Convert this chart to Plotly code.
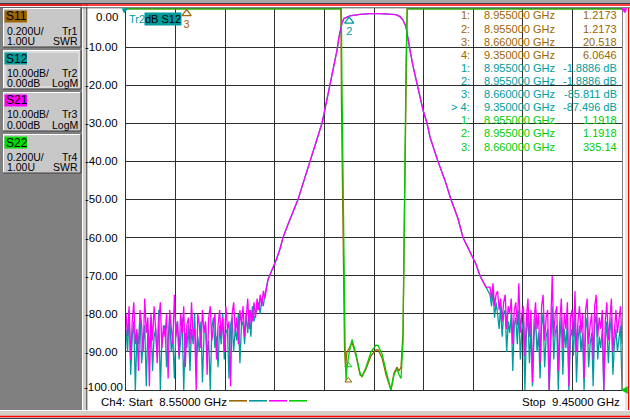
import numpy as np
import plotly.graph_objects as go

# ---------------- data ----------------
F_START = 8.55
F_STOP = 9.45

# filter response shared by S21 / S12: skirts + passband (GHz, dB)
xfer_freq = [8.8077, 8.8149, 8.8222, 8.8294, 8.8349, 8.8440, 8.8530, 8.8621, 8.8730, 8.8839,
             8.8948, 8.9056, 8.9129, 8.9202, 8.9238, 8.9274, 8.9329, 8.9365, 8.9401, 8.9419,
             8.9456, 8.9510, 8.9564, 8.9746, 8.9927, 9.0109, 9.0290, 9.0399, 9.0472, 9.0526,
             9.0581, 9.0608, 9.0653, 9.0708, 9.0762, 9.0816, 9.0889, 9.0962, 9.1016, 9.1161,
             9.1288, 9.1397, 9.1524, 9.1615, 9.1742, 9.1851, 9.1923, 9.2032]
xfer_db = [-71, -68.5, -66, -63, -60, -56.5, -53, -50, -45, -40,
           -35, -30, -25, -20, -17.5, -15, -10.8, -7.3, -5, -3.7,
           -2.5, -2.1, -1.8, -1.4, -1.2, -1.2, -1.3, -1.5, -2.0, -2.9,
           -4.7, -7.3, -10.8, -15, -18.6, -22, -26.5, -30, -33.6, -40,
           -45, -50, -55, -60, -64, -67, -70, -73]

# noise floor, lower band edge (8.550 .. 8.802 GHz)
NOISE_LEFT = (8.550, 8.802)
s21_noise_left = [-80, -86, -78, -92, -82, -77, -88, -84, -95, -79, -83, -90, -76, -85, -81,
                  -99, -80, -87, -78, -84, -93, -82, -77, -89, -83, -86, -80, -97, -79, -84,
                  -88, -75, -86, -82, -91, -80, -85, -78, -94, -83, -81, -88, -77, -86, -84,
                  -100, -80, -83, -89, -79, -85, -82, -96, -81, -78, -87, -84, -80, -92, -83,
                  -79, -86, -81, -90, -78, -84, -82, -99, -80, -77, -85, -81, -88, -79, -83,
                  -78, -86, -80, -76, -84, -79, -82, -77, -81, -76, -79, -75, -78, -74, -76]
s12_noise_left = [-84, -90, -79, -96, -86, -82, -100, -85, -88, -80, -93, -87, -83, -99, -84,
                  -89, -81, -95, -86, -84, -91, -79, -100, -87, -85, -83, -94, -88, -80, -90,
                  -86, -97, -84, -82, -92, -87, -81, -100, -85, -89, -83, -95, -84, -88, -80,
                  -93, -86, -90, -82, -98, -85, -83, -91, -87, -100, -84, -81, -89, -86, -94,
                  -83, -88, -80, -92, -85, -84, -97, -83, -81, -90, -84, -87, -80, -93, -83,
                  -82, -88, -80, -85, -79, -86, -78, -82, -80, -79, -77, -80, -76, -78, -75]

# noise floor, upper band edge (9.2105 .. 9.450 GHz)
NOISE_RIGHT = (9.2105, 9.450)
s21_noise_right = [-73, -76, -72, -78, -75, -74, -79, -76, -82, -77, -75, -84, -78, -80, -76,
                   -88, -79, -77, -83, -72, -85, -80, -78, -91, -81, -76, -86, -79, -98, -82,
                   -77, -84, -80, -93, -78, -75, -87, -81, -79, -100, -83, -70, -86, -80, -78,
                   -95, -82, -76, -89, -80, -84, -77, -99, -81, -79, -86, -74, -90, -82, -78,
                   -85, -80, -97, -79, -76, -88, -83, -80, -92, -78, -75, -86, -81, -84, -79,
                   -100, -82, -77, -87, -80, -76, -90, -83, -79, -85, -81, -78, -88]
s12_noise_right = [-75, -78, -74, -81, -77, -80, -84, -78, -86, -80, -79, -90, -82, -85, -80,
                   -95, -83, -81, -88, -79, -92, -84, -82, -100, -85, -80, -93, -84, -99, -86,
                   -81, -90, -85, -97, -83, -80, -94, -86, -84, -100, -88, -78, -92, -85, -83,
                   -100, -87, -81, -96, -84, -89, -82, -100, -86, -84, -91, -80, -98, -87, -83,
                   -90, -85, -100, -84, -81, -94, -88, -85, -99, -83, -80, -92, -86, -89, -84,
                   -100, -87, -82, -93, -85, -81, -96, -88, -84, -90, -86, -83, -100]

# S11 / S22 as SWR (ref 1.00 U at bottom, 0.200 U/div)
s11_freq = [8.550, 8.660, 8.800, 8.920, 8.935, 8.9398, 8.9410, 8.9428, 8.9446, 8.9465,
            8.9483, 8.9510, 8.9546, 8.9601, 8.9673, 8.9746, 8.9782, 8.9855, 8.9946, 9.0036,
            9.0073, 9.0145, 9.0218, 9.0290, 9.0308, 9.0363, 9.0417, 9.0454, 9.0490, 9.0526,
            9.0544, 9.0562, 9.0581, 9.0600, 9.0617, 9.100, 9.350, 9.450]
s11_swr = [25, 20.518, 30, 10, 4.5, 3.0, 2.5, 2.0, 1.5, 1.22,
           1.12, 1.2, 1.217, 1.25, 1.18, 1.08, 1.07, 1.11, 1.18, 1.21,
           1.21, 1.17, 1.08, 1.01, 1.0, 1.09, 1.12, 1.10, 1.12, 1.3,
           1.8, 2.3, 2.75, 3.0, 4.0, 12, 6.0646, 8]
s22_freq = [8.550, 8.660, 8.800, 8.920, 8.935, 8.9407, 8.9419, 8.9437, 8.9456, 8.9474,
            8.9492, 8.9510, 8.9546, 8.9601, 8.9673, 8.9746, 8.9782, 8.9855, 8.9946, 9.0036,
            9.0073, 9.0145, 9.0218, 9.0290, 9.0308, 9.0363, 9.0417, 9.0454, 9.0490, 9.0526,
            9.0544, 9.0562, 9.0581, 9.0604, 9.0617, 9.100, 9.350, 9.450]
s22_swr = [60, 335.14, 80, 12, 5, 3.0, 2.6, 2.1, 1.6, 1.25,
           1.05, 1.12, 1.19, 1.265, 1.19, 1.09, 1.07, 1.12, 1.20, 1.235,
           1.234, 1.19, 1.10, 1.02, 1.0, 1.08, 1.11, 1.08, 1.06, 1.25,
           1.75, 2.25, 2.7, 3.0, 3.8, 15, 40, 30]

# trace setup panel
trace_names = ["S11", "S12", "S21", "S22"]
trace_scale = ["0.200U/", "10.00dB/", "10.00dB/", "0.200U/"]
trace_ref = ["1.00U", "0.00dB", "0.00dB", "1.00U"]
trace_id = ["Tr1", "Tr2", "Tr3", "Tr4"]
trace_fmt = ["SWR", "LogM", "LogM", "SWR"]

# marker readout
readout_idx = ["1:", "2:", "3:", "4:", "1:", "2:", "3:", "> 4:", "1:", "2:", "3:"]
readout_freq = ["8.955000 GHz", "8.955000 GHz", "8.660000 GHz", "9.350000 GHz",
                "8.955000 GHz", "8.955000 GHz", "8.660000 GHz", "9.350000 GHz",
                "8.955000 GHz", "8.955000 GHz", "8.660000 GHz"]
readout_val = ["1.2173", "1.2173", "20.518", "6.0646",
               "-1.8886 dB", "-1.8886 dB", "-85.811 dB", "-87.496 dB",
               "1.1918", "1.1918", "335.14"]
readout_trace = [0, 0, 0, 0, 1, 1, 1, 1, 3, 3, 3]

y_ticks = [0, -10, -20, -30, -40, -50, -60, -70, -80, -90, -100]

# ---------------- styling ----------------
BROWN = "#9c6600"
TEAL = "#009c9c"
MAGENTA = "#ff00ff"
GREEN = "#00cc00"
COLORS = [BROWN, TEAL, MAGENTA, GREEN]
LABEL_BG = [BROWN, TEAL, MAGENTA, "#00dd00"]
FONT = "Liberation Sans, Arial, sans-serif"
GRID = "#2e2e2e"

W, H = 630, 419
L, R, T, B = 126, 622, 8, 390
Y_TOP = 0.25


def px(x):
    return (x - L) / (R - L)


def py(y):
    return (B - y) / (B - T)


def swr_to_disp(swr):
    return np.minimum(-100 + (np.asarray(swr, dtype=float) - 1.0) / 0.2 * 10.0, 0.0)


def assemble(left, right):
    f = np.concatenate([np.linspace(*NOISE_LEFT, len(left)), xfer_freq,
                        np.linspace(*NOISE_RIGHT, len(right))])
    y = np.concatenate([left, xfer_db, right])
    return f, y


fig = go.Figure()

fig.add_trace(go.Scatter(x=np.asarray(s11_freq), y=swr_to_disp(s11_swr), mode="lines",
                         line=dict(color=BROWN, width=1.3), hoverinfo="skip"))
f12, y12 = assemble(s12_noise_left, s12_noise_right)
fig.add_trace(go.Scatter(x=f12, y=y12, mode="lines",
                         line=dict(color=TEAL, width=1.3), hoverinfo="skip"))
f21, y21 = assemble(s21_noise_left, s21_noise_right)
fig.add_trace(go.Scatter(x=f21, y=y21, mode="lines",
                         line=dict(color=MAGENTA, width=1.3), hoverinfo="skip"))
fig.add_trace(go.Scatter(x=np.asarray(s22_freq), y=swr_to_disp(s22_swr), mode="lines",
                         line=dict(color=GREEN, width=1.3), hoverinfo="skip"))

# markers drawn on the traces
fig.add_trace(go.Scatter(x=[8.955], y=[-3.2], mode="markers+text", text=["2"],
                         textposition="bottom center",
                         textfont=dict(color=TEAL, size=11, family=FONT),
                         marker=dict(symbol="triangle-up-open", size=8, color=TEAL,
                                     line=dict(width=1.3)),
                         cliponaxis=False, hoverinfo="skip"))
fig.add_trace(go.Scatter(x=[8.66], y=[-1.2], mode="markers+text", text=["3"],
                         textposition="bottom center",
                         textfont=dict(color=BROWN, size=11, family=FONT),
                         marker=dict(symbol="triangle-up-open", size=8, color=BROWN,
                                     line=dict(width=1.3)),
                         cliponaxis=False, hoverinfo="skip"))
fig.add_trace(go.Scatter(x=[8.9535, 8.9535], y=[-93.5, -97.5], mode="markers",
                         marker=dict(symbol="triangle-up-open", size=6, color=[GREEN, BROWN],
                                     line=dict(width=1)),
                         cliponaxis=False, hoverinfo="skip"))

shapes = []
ann = []


def rect(x0, y0, x1, y1, fill, line=None, lw=0):
    shapes.append(dict(type="rect", xref="paper", yref="paper", x0=px(x0), x1=px(x1),
                       y0=py(y1), y1=py(y0), fillcolor=fill,
                       line=dict(color=line or fill, width=lw), layer="above"))


def hline(x0, x1, y, color, w=1):
    shapes.append(dict(type="line", xref="paper", yref="paper", x0=px(x0), x1=px(x1),
                       y0=py(y), y1=py(y), line=dict(color=color, width=w), layer="above"))


def vline(x, y0, y1, color, w=1):
    shapes.append(dict(type="line", xref="paper", yref="paper", x0=px(x), x1=px(x),
                       y0=py(y0), y1=py(y1), line=dict(color=color, width=w), layer="above"))


def tri(pts, color):
    d = "M " + " L ".join(f"{px(a)},{py(b)}" for a, b in pts) + " Z"
    shapes.append(dict(type="path", xref="paper", yref="paper", path=d, fillcolor=color,
                       line=dict(color=color, width=0.5), layer="above"))


def text(x, y, s, color="black", size=11, xanchor="left", bg=None):
    ann.append(dict(xref="paper", yref="paper", x=px(x), y=py(y), text=s, showarrow=False,
                    xanchor=xanchor, yanchor="middle", borderpad=0,
                    bgcolor=bg if bg else "rgba(0,0,0,0)",
                    font=dict(family=FONT, size=size, color=color)))


# left panel
rect(0, 0, 82, 412, "#808080")
rect(82, 0, 87, 412, "#d4d0c8")
vline(86.8, 0, 411, "#404040", 1)
vline(82.5, 0, 411, "#ffffff", 1)
# right border
rect(622.6, 0, 630, 412, "#ffffff")
vline(626, 8, 411, "#c8c8c8", 1)
vline(628.5, 8, 411, "#ff0000", 1.2)
# top strip
rect(0, 0, 630, 3, "#a8a8a8")
hline(0, 630, 3.5, "#404040", 1)
hline(0, 630, 5, "#ff0000", 1.5)
hline(0, 630, 6.6, "#ffffff", 1)
hline(0, 630, 7.8, "#505050", 1)
# bottom strip
rect(0, 410, 630, 419, "#d4d0c8")
hline(0, 630, 410.5, "#ffffff", 1)
hline(0, 630, 416.5, "#ff0000", 1.5)
hline(0, 630, 418.5, "#404040", 1)

# trace setup boxes
for i in range(4):
    top = 8 + 42 * i
    rect(3, top, 81, top + 39, "#c8c8c8")
    hline(3, 81, top + 0.5, "#ffffff", 1)
    vline(3.5, top, top + 39, "#ffffff", 1)
    hline(3, 81, top + 39, "#404040", 1.2)
    vline(81, top, top + 39, "#404040", 1.2)
    if i == 1:
        shapes.append(dict(type="rect", xref="paper", yref="paper", x0=px(5), x1=px(79),
                           y0=py(top + 37), y1=py(top + 2), line=dict(color="#f0f0f0", width=1),
                           layer="above"))
    rect(4.5, top + 2.5, 27, top + 14.5, LABEL_BG[i])
    text(4.5, top + 8.5, trace_names[i], size=12)
    text(6, top + 22.5, trace_scale[i], size=10.5)
    text(79, top + 22.5, trace_id[i], xanchor="right", size=10.5)
    text(6, top + 33, trace_ref[i], size=10.5)
    text(79, top + 33, trace_fmt[i], xanchor="right", size=10.5)

# y tick labels
for v in y_ticks:
    ypos = B - (v + 100) / (100 + Y_TOP) * (B - T)
    if v == 0:
        ypos = 17
    if v == -100:
        ypos = 386.5
    text(124 if v == -100 else 119, ypos, f"{v:.2f}", size=11.5, xanchor="right")

# reference arrows
tri([(122, 8.5), (128, 8.5), (124, 13)], TEAL)
tri([(627, 8.5), (621, 8.5), (625, 13)], MAGENTA)
tri([(621.5, 390), (627.5, 386.5), (627.5, 393.5)], GREEN)

# active trace title
text(127.5, 18.5, "Tr2", color=TEAL, size=11)
text(144, 18.5, "dB S12", color="black", size=11, bg=TEAL)

# marker readout
for i in range(len(readout_idx)):
    c = COLORS[readout_trace[i]]
    yy = 15.5 + 13.1 * i
    text(471, yy, readout_idx[i], color=c, xanchor="right")
    text(556, yy, readout_freq[i], color=c, xanchor="right")
    text(618, yy, readout_val[i], color=c, xanchor="right")

# footer
text(100, 402, "Ch4: Start\u00a0\u00a08.55000 GHz", size=11.5)
text(621, 402, "Stop\u00a0\u00a09.45000 GHz", size=11.5, xanchor="right")
for k, c in enumerate(COLORS):
    hline(229 + 20 * k, 247 + 20 * k, 400.8, c, 1.6)

fig.update_layout(
    width=W, height=H,
    margin=dict(l=L, r=W - R, t=T, b=H - B, pad=0, autoexpand=False),
    paper_bgcolor="#ffffff", plot_bgcolor="#ffffff",
    showlegend=False,
    shapes=shapes, annotations=ann,
    xaxis=dict(range=[F_START, F_STOP], tick0=F_START, dtick=(F_STOP - F_START) / 10,
               showgrid=True, gridcolor=GRID, gridwidth=1.3, zeroline=False,
               showticklabels=False, ticks="", showline=True, linecolor=GRID, linewidth=1.3,
               mirror=False, fixedrange=True),
    yaxis=dict(range=[-100, Y_TOP], tick0=0, dtick=10, showgrid=True, gridcolor=GRID,
               gridwidth=1.3, zeroline=False, showticklabels=False, ticks="",
               showline=True, linecolor=GRID, linewidth=1.3, mirror=True, fixedrange=True),
)

fig.write_html("out.html", config=dict(displayModeBar=False),
               post_script="document.body.style.margin='0';document.body.style.overflow='hidden';")
